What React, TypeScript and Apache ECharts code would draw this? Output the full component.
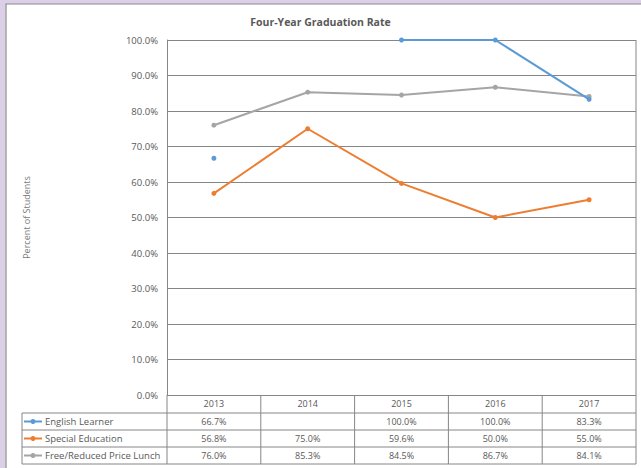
import React, { useEffect, useRef } from "react";
import * as echarts from "echarts";

const years = ["2013", "2014", "2015", "2016", "2017"];
const seriesNames = ["English Learner", "Special Education", "Free/Reduced Price Lunch"];
const englishLearner: (number | null)[] = [66.7, null, 100.0, 100.0, 83.3];
const specialEducation: (number | null)[] = [56.8, 75.0, 59.6, 50.0, 55.0];
const freeReducedLunch: (number | null)[] = [76.0, 85.3, 84.5, 86.7, 84.1];
const seriesColors = ["#5b9bd5", "#ed7d31", "#a5a5a5"];
const yMin = 0;
const yMax = 100;
const yInterval = 10;

const FONT = "'Open Sans', 'Noto Sans', sans-serif";
const TEXT = "#595959";
const LINE = "#868686";

export default function App() {
  const ref = useRef<HTMLDivElement>(null);
  useEffect(() => {
    if (!ref.current) return;
    const chart = echarts.init(ref.current, undefined, { renderer: "svg" });
    const allData = [englishLearner, specialEducation, freeReducedLunch];
    const option: any = {
      animation: false,
      backgroundColor: "#ffffff",
      title: {
        text: "Four-Year Graduation Rate",
        left: "center",
        top: 11,
        textStyle: { fontSize: 10.5, fontWeight: "bold", color: TEXT, fontFamily: FONT },
      },
      grid: { left: 167, right: 5, top: 40, bottom: 73 },
      xAxis: {
        type: "category",
        data: years,
        boundaryGap: true,
        axisLine: { show: false },
        axisTick: { show: false },
        axisLabel: { show: true, margin: 4, fontSize: 9, color: TEXT, fontFamily: FONT },
      },
      yAxis: {
        type: "value",
        min: yMin,
        max: yMax,
        interval: yInterval,
        name: "Percent of Students",
        nameLocation: "middle",
        nameGap: 136,
        nameRotate: 90,
        nameTextStyle: { fontSize: 9, color: "#7a7a7a", fontFamily: FONT },
        axisLine: { show: true, lineStyle: { color: LINE, width: 1 } },
        axisTick: { show: false },
        axisLabel: {
          margin: 9,
          fontSize: 9.5,
          color: TEXT,
          fontFamily: FONT,
          formatter: (v: number) => v.toFixed(1) + "%",
        },
        splitLine: { show: true, lineStyle: { color: LINE, width: 1 } },
      },
      series: seriesNames.map((name, i) => ({
        name,
        type: "line",
        data: allData[i],
        connectNulls: false,
        symbol: "circle",
        symbolSize: 5,
        showAllSymbol: true,
        lineStyle: { color: seriesColors[i], width: 2 },
        itemStyle: { color: seriesColors[i] },
        z: 3 + (2 - i),
      })),
    };
    chart.setOption(option);

    const xs = years.map((_, i) => chart.convertToPixel({ xAxisIndex: 0 }, i) as number);
    const step = xs[1] - xs[0];
    const left = xs[0] - step / 2;
    const right = xs[xs.length - 1] + step / 2;
    const top = chart.convertToPixel({ yAxisIndex: 0 }, yMax) as number;
    const bottom = chart.convertToPixel({ yAxisIndex: 0 }, yMin) as number;
    const headerH = 18;
    const rowH = 17;
    const tableTop = bottom + headerH;
    const tableBottom = tableTop + rowH * seriesNames.length;
    const legendLeft = 22;

    const g: any[] = [];
    // page frame
    g.push({ type: "rect", shape: { x: 0, y: 0, width: 641, height: 4 }, style: { fill: "#dccfe8" }, silent: true });
    g.push({ type: "rect", shape: { x: 0, y: 0, width: 5.5, height: 468 }, style: { fill: "#dccfe8" }, silent: true });
    g.push({ type: "line", shape: { x1: 5.5, y1: 4, x2: 641, y2: 4 }, style: { stroke: "#8a8a8a", lineWidth: 1.2 }, silent: true });
    g.push({ type: "line", shape: { x1: 6, y1: 4, x2: 6, y2: 468 }, style: { stroke: "#8a8a8a", lineWidth: 1.2 }, silent: true });

    // plot right border & left axis extension
    g.push({ type: "line", shape: { x1: right, y1: top, x2: right, y2: tableBottom }, style: { stroke: LINE, lineWidth: 1 }, silent: true });
    g.push({ type: "line", shape: { x1: left, y1: bottom, x2: left, y2: tableBottom }, style: { stroke: LINE, lineWidth: 1 }, silent: true });
    // column boundaries
    for (let i = 1; i < years.length; i++) {
      const bx = xs[i] - step / 2;
      g.push({ type: "line", shape: { x1: bx, y1: bottom, x2: bx, y2: tableBottom }, style: { stroke: LINE, lineWidth: 1 }, silent: true });
    }
    // horizontal row lines
    for (let r = 0; r <= seriesNames.length; r++) {
      const ry = tableTop + r * rowH;
      g.push({ type: "line", shape: { x1: legendLeft, y1: ry, x2: right, y2: ry }, style: { stroke: LINE, lineWidth: 1 }, silent: true });
    }
    g.push({ type: "line", shape: { x1: legendLeft, y1: tableTop, x2: legendLeft, y2: tableBottom }, style: { stroke: LINE, lineWidth: 1 }, silent: true });

    seriesNames.forEach((name, r) => {
      const cy = tableTop + r * rowH + rowH / 2;
      g.push({ type: "line", shape: { x1: legendLeft + 2, y1: cy, x2: legendLeft + 20, y2: cy }, style: { stroke: seriesColors[r], lineWidth: 2 }, silent: true });
      g.push({ type: "circle", shape: { cx: legendLeft + 11, cy, r: 2.5 }, style: { fill: seriesColors[r] }, silent: true });
      g.push({
        type: "text",
        x: legendLeft + 23,
        y: cy,
        style: { text: name, fill: TEXT, fontSize: 9.5, fontFamily: FONT, align: "left", verticalAlign: "middle" },
        silent: true,
      });
      allData[r].forEach((v, i) => {
        if (v == null) return;
        g.push({
          type: "text",
          x: xs[i],
          y: cy,
          style: { text: v.toFixed(1) + "%", fill: TEXT, fontSize: 9, fontFamily: FONT, align: "center", verticalAlign: "middle" },
          silent: true,
        });
      });
    });

    chart.setOption({ graphic: { elements: g } });
    return () => chart.dispose();
  }, []);
  return (
    <div
      ref={ref}
      style={{ position: "fixed", left: 0, top: 0, width: 641, height: 468 }}
    />
  );
}
